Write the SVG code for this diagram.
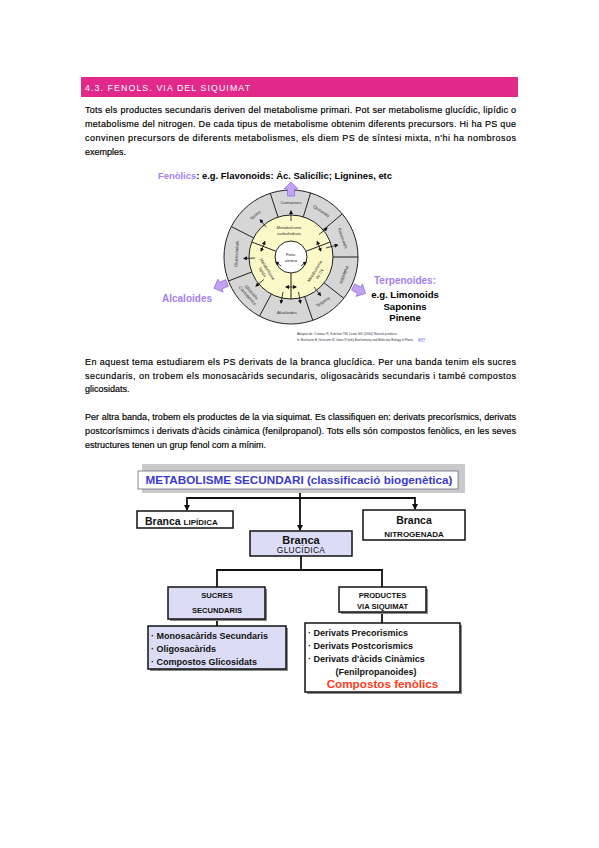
<svg xmlns="http://www.w3.org/2000/svg" width="599" height="848" viewBox="0 0 599 848">
<style>
.body{font-family:"Liberation Sans",Arial,sans-serif;font-size:9px;fill:#000;stroke:#000;stroke-width:0.18}
.hdr{font-family:"Liberation Sans",Arial,sans-serif;font-size:8.8px;fill:#fff}
.ar{font-family:"Liberation Sans",Arial,sans-serif;font-weight:bold}
.lav{fill:#a57ef2}
.seg{font-family:"Liberation Sans",Arial,sans-serif;font-size:4.4px;fill:#333;text-anchor:middle;dominant-baseline:central}
.yl{font-family:"Liberation Sans",Arial,sans-serif;font-size:4.4px;fill:#333;text-anchor:middle}
.rad{stroke:#222;stroke-width:1;fill:none}
.sm{stroke:#111;stroke-width:0.8;fill:none;marker-end:url(#ah)}
.dbl{stroke:#111;stroke-width:0.8;fill:none;marker-end:url(#ah);marker-start:url(#ahs)}
.pa{fill:#c3a2f4;stroke:#8d6ad8;stroke-width:0.7}
.box{stroke:#111;stroke-width:1.5}
.shadow{fill:#8a8a8a}
.conn{stroke:#111;stroke-width:1.8;fill:none}
.lv{fill:#dcdcf6}
.t{font-family:"Liberation Sans",Arial,sans-serif;font-weight:bold;fill:#111}
.c{text-anchor:middle}
.cite{font-family:"Liberation Sans",Arial,sans-serif;font-size:2.7px;fill:#334}
</style>
<defs>
<marker id="ah" markerWidth="4" markerHeight="4" refX="3" refY="2" orient="auto" markerUnits="userSpaceOnUse"><path d="M0,0 L4,2 L0,4 z" fill="#111"/></marker>
<marker id="ahs" markerWidth="4" markerHeight="4" refX="1" refY="2" orient="auto" markerUnits="userSpaceOnUse"><path d="M4,0 L0,2 L4,4 z" fill="#111"/></marker>
<marker id="ta" markerWidth="6" markerHeight="6" refX="5" refY="3" orient="auto" markerUnits="userSpaceOnUse"><path d="M0,0 L6,3 L0,6 z" fill="#111"/></marker>
<path id="parrow" d="M0,-3.5 H7 V-7 L14,0 L7,7 V3.5 H0 z"/>
</defs>

<!-- Header -->
<g id="header">
<rect x="81" y="77" width="437" height="20" fill="#e2288b"/>
<text class="hdr" x="85" y="90.5" textLength="165" lengthAdjust="spacing">4.3. FENOLS. VIA DEL SIQUIMAT</text>
</g>

<!-- Paragraph 1 -->
<g id="para1">
<text class="body" x="85" y="113" textLength="431" lengthAdjust="spacing">Tots els productes secundaris deriven del metabolisme primari. Pot ser metabolisme glucídic, lipídic o</text>
<text class="body" x="85" y="127" textLength="431" lengthAdjust="spacing">metabolisme del nitrogen. De cada tipus de metabolisme obtenim diferents precursors. Hi ha PS que</text>
<text class="body" x="85" y="141" textLength="431" lengthAdjust="spacing">convinen precursors de diferents metabolismes, els diem PS de síntesi mixta, n'hi ha nombrosos</text>
<text class="body" x="85" y="155">exemples.</text>
</g>

<!-- Circular diagram -->
<g id="circle-diagram">
<text class="ar" x="158" y="179" font-size="8.2" textLength="234" lengthAdjust="spacingAndGlyphs"><tspan class="lav">Fenòlics</tspan>: e.g. Flavonoids: Ác. Salicílic; Lignines, etc</text>
<circle cx="291" cy="257" r="67" fill="#d6d6d6" stroke="#222" stroke-width="1"/>
<circle cx="291" cy="257" r="42" fill="#fcf9c8" stroke="#222" stroke-width="1"/>
<circle cx="291" cy="257" r="16" fill="#fff" stroke="#222" stroke-width="1"/>
<path class="rad" d="M278,217.1 L270.3,193.3 M303.3,216.8 L310.6,192.9 M323.2,230 L342.3,213.9 M333,257 L358,257 M324.1,282.9 L343.8,298.3 M304.7,296.7 L312.8,320.4 M271.3,294.1 L259.5,316.2 M251.8,272 L228.4,281 M253.6,237.9 L231.3,226.6"/>
<path class="rad" d="M276.1,251.3 L251.8,242 M305.9,251.3 L330.2,242 M291,273 L291,299"/>
<text class="seg" x="291" y="202">Cumarines</text>
<text class="seg" transform="translate(321.4,211.1) rotate(33.5)">Quinones</text>
<text class="seg" transform="translate(342.7,238.2) rotate(70)">Flavonoids</text>
<text class="seg" transform="translate(344,275) rotate(109)">Policètids</text>
<text class="seg" transform="translate(323,301.8) rotate(-35.5)">Terpens</text>
<text class="seg" x="287" y="312">Alcaloides</text>
<text class="seg" transform="translate(249.8,293.5) rotate(48.5)"><tspan x="0" dy="-2.6">Glicòsids</tspan><tspan x="0" dy="5.2">Cianogènics</tspan></text>
<text class="seg" transform="translate(236.5,254) rotate(-87)">Glucosinolats</text>
<text class="seg" transform="translate(255.3,215.2) rotate(-40.5)">Tanins</text>
<text class="yl" x="289" y="229">Metabolisme</text>
<text class="yl" x="289" y="235">carbohidrats</text>
<text class="yl" transform="translate(266,270) rotate(58)"><tspan x="0" y="0">Metabolisme</tspan><tspan x="0" y="5.5">lípids</tspan></text>
<text class="yl" transform="translate(316,272) rotate(-58)"><tspan x="0" y="0">Metabolisme</tspan><tspan x="0" y="5.5">de l'N</tspan></text>
<text class="yl" x="291" y="255.5" style="fill:#223">Foto-</text>
<text class="yl" x="291" y="261.5" style="fill:#223">síntesi</text>
<path class="sm" d="M266.3,227.2 L260.2,219.8"/>
<path class="sm" d="M291,221 L291,211"/>
<path class="sm" d="M319,234.5 L327,228.2"/>
<path class="sm" d="M326,248 L337.6,245"/>
<path class="sm" d="M314,287 L320.5,295.5"/>
<path class="sm" d="M298.5,292 L300.5,303"/>
<path class="sm" d="M283,292 L281,303"/>
<path class="sm" d="M263.8,279.5 L256,286"/>
<path class="sm" d="M255,258 L244,258.5"/>
<path class="sm" d="M281,266 L276,262"/>
<path class="sm" d="M301,266 L306,262"/>
<path class="dbl" d="M261.2,251 L264.8,241.6"/>
<path class="dbl" d="M317.2,241.5 L320.8,250.9"/>
<path class="dbl" d="M286,287 L296,287"/>
<use href="#parrow" class="pa" transform="translate(291,196) rotate(-90)"/>
<use href="#parrow" class="pa" transform="translate(227,283) rotate(158)"/>
<use href="#parrow" class="pa" transform="translate(353,287) rotate(27)"/>
<text class="ar lav" x="162" y="302" font-size="10">Alcaloides</text>
<text class="ar lav" x="405" y="284" font-size="10" text-anchor="middle">Terpenoides:</text>
<text class="ar" x="405" y="298" font-size="9.6" text-anchor="middle">e.g. Limonoids</text>
<text class="ar" x="405" y="310" font-size="9.6" text-anchor="middle">Saponins</text>
<text class="ar" x="405" y="321" font-size="9.6" text-anchor="middle">Pinene</text>
<text class="cite" x="297" y="335" textLength="100" lengthAdjust="spacingAndGlyphs">Adaptat de: Croteau R, Kutchan TM, Lewis NG (2000) Natural products</text>
<text class="cite" x="297" y="340.5" textLength="116" lengthAdjust="spacingAndGlyphs">In: Buchanan B, Gruissem W, Jones R (eds) Biochemistry and Molecular Biology of Plants</text>
<text class="cite" x="418" y="340.5" style="fill:#66f" text-decoration="underline">ASPP</text>
</g>

<!-- Paragraph 2 -->
<g id="para2">
<text class="body" x="85" y="365" textLength="431" lengthAdjust="spacing">En aquest tema estudiarem els PS derivats de la branca glucídica. Per una banda tenim els sucres</text>
<text class="body" x="85" y="379" textLength="431" lengthAdjust="spacing">secundaris, on trobem els monosacàrids secundaris, oligosacàrids secundaris i també compostos</text>
<text class="body" x="85" y="392">glicosidats.</text>
</g>

<!-- Paragraph 3 -->
<g id="para3">
<text class="body" x="85" y="420" textLength="431" lengthAdjust="spacing">Per altra banda, trobem els productes de la via siquimat. Es classifiquen en: derivats precorísmics, derivats</text>
<text class="body" x="85" y="434" textLength="431" lengthAdjust="spacing">postcorísmimcs i derivats d'àcids cinàmica (fenilpropanol). Tots ells són compostos fenòlics, en les seves</text>
<text class="body" x="85" y="448">estructures tenen un grup fenol com a mínim.</text>
</g>

<!-- Tree connectors -->
<g id="connectors">
<path class="conn" d="M300,489 V530" marker-end="url(#ta)"/>
<path class="conn" d="M187,498 H415"/>
<path class="conn" d="M187,497 V510" marker-end="url(#ta)"/>
<path class="conn" d="M415,497 V509" marker-end="url(#ta)"/>
<path class="conn" d="M301,556 V570 M216,570 H383 M217,569 V587 M382,569 V587"/>
<path class="conn" d="M217,619 V626 M382,612 V623"/>
</g>

<!-- Tree nodes -->
<g id="n-title">
<rect x="142" y="464" width="323" height="29" fill="#c9c9c9"/>
<rect x="138" y="471" width="320" height="18" fill="#fff" stroke="#6a6a8a" stroke-width="0.8"/>
<text class="ar c" x="299" y="484" font-size="10.5" fill="#3a3ad0" textLength="307" lengthAdjust="spacingAndGlyphs">METABOLISME SECUNDARI (classificació biogenètica)</text>
</g>
<g id="n-lipidica">
<rect x="137" y="511" width="96" height="17" fill="#fff" class="box"/>
<text class="t" x="145" y="525" font-size="10.5">Branca <tspan font-size="8">LIPÍDICA</tspan></text>
</g>
<g id="n-nitrogenada">
<rect x="363" y="510" width="102" height="30" fill="#fff" class="box"/>
<text class="t c" x="414" y="524" font-size="10.5">Branca</text>
<text class="t c" x="414" y="537" font-size="8">NITROGENADA</text>
</g>
<g id="n-glucidica">
<rect x="250" y="531" width="102" height="25" class="box lv"/>
<text class="t c" x="301" y="543.5" font-size="11">Branca</text>
<text class="c" x="301" y="553" font-size="8.4" font-family="Liberation Sans, Arial, sans-serif" fill="#111" letter-spacing="0.3">GLUCÍDICA</text>
</g>
<g id="n-sucres">
<rect x="170" y="589" width="97" height="32" class="shadow"/>
<rect x="168" y="587" width="97" height="32" class="box lv"/>
<text class="t c" x="217" y="598" font-size="7.6">SUCRES</text>
<text class="t c" x="217" y="613" font-size="7.6">SECUNDARIS</text>
</g>
<g id="n-productes">
<rect x="341" y="589" width="87" height="25" class="shadow"/>
<rect x="339" y="587" width="87" height="25" fill="#fff" class="box"/>
<text class="t c" x="382.5" y="597.5" font-size="7.6">PRODUCTES</text>
<text class="t c" x="382.5" y="608.5" font-size="7.6">VIA SIQUIMAT</text>
</g>
<g id="n-sucres-list">
<rect x="150" y="628" width="138" height="43" class="shadow"/>
<rect x="148" y="626" width="138" height="43" class="box lv"/>
<text class="t" x="151" y="638.5" font-size="9">· Monosacàrids Secundaris</text>
<text class="t" x="151" y="651.5" font-size="9">· Oligosacàrids</text>
<text class="t" x="151" y="664.5" font-size="9">· Compostos Glicosidats</text>
</g>
<g id="n-productes-list">
<rect x="307" y="625" width="155" height="69" class="shadow"/>
<rect x="305" y="623" width="155" height="69" fill="#fff" class="box"/>
<text class="t" x="308" y="636" font-size="9">· Derivats Precorismics</text>
<text class="t" x="308" y="649" font-size="9">· Derivats Postcorismics</text>
<text class="t" x="308" y="662" font-size="9">· Derivats d'àcids Cinàmics</text>
<text class="t c" x="376" y="675" font-size="9">(Fenilpropanoides)</text>
<text class="ar c" x="382.5" y="688" font-size="11.7" fill="#ff3b1d">Compostos fenòlics</text>
</g>
</svg>
